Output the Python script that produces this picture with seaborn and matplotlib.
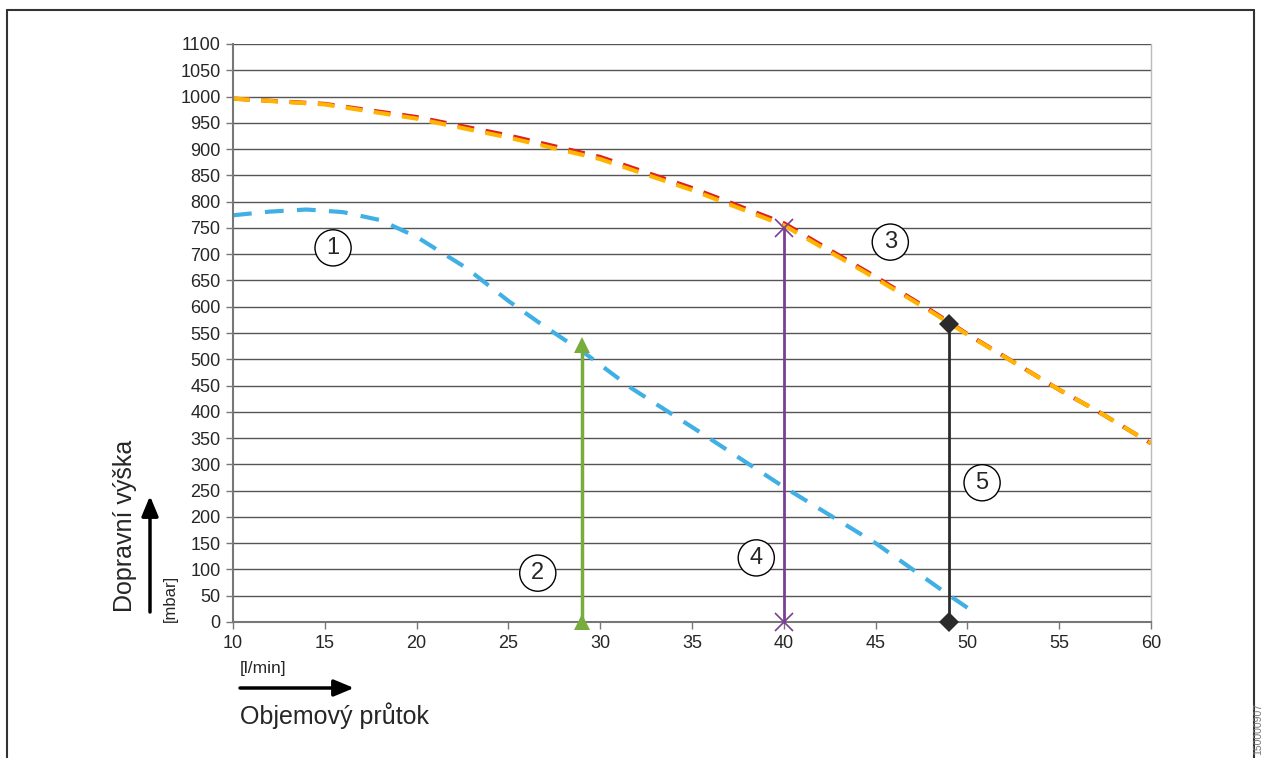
import matplotlib.pyplot as plt
import matplotlib.lines as mlines
import pandas as pd
import seaborn as sns

# curve data
flow_blue = [10, 12, 14, 16, 18, 20, 22.7, 25, 26.7, 29.3, 31.7, 35.4, 40, 45, 49, 50.3]
head_blue = [774, 781, 785, 780, 765, 733, 674, 611, 569, 508, 445, 362, 257, 150, 51, 20]

flow_top = [10, 15, 20, 25, 30, 35, 40, 45, 48.1, 50, 55, 57, 60]
head_orange = [996, 985, 958, 922, 881, 822, 755, 654, 589, 547, 442, 403, 340]
head_red = [996, 986, 961, 926, 885, 826, 759, 657, 591, 548, 442, 403, 340]

# vertical operating lines
x_green = [29, 29]
y_green = [0, 527]
x_purple = [40, 40]
y_purple = [0, 750]
x_black = [49, 49]
y_black = [0, 567]

# circled numbers
labels = ["1", "2", "3", "4", "5"]
label_x = [15.45, 26.6, 45.8, 38.5, 50.8]
label_y = [712, 93, 723, 122, 265]

sns.set_style("white")
plt.rcParams["font.family"] = ["Liberation Sans", "DejaVu Sans"]

df_blue = pd.DataFrame({"flow": flow_blue, "head": head_blue})
df_top = pd.DataFrame({"flow": flow_top, "orange": head_orange, "red": head_red})

fig = plt.figure(figsize=(12.62, 7.58), dpi=100)
ax = fig.add_axes([233 / 1262, 1 - 622 / 758, 918 / 1262, 578 / 758])

sns.lineplot(data=df_top, x="flow", y="red", color="#e02020", linewidth=3,
             dashes=(4, 2.8), sort=False, estimator=None, ax=ax)
sns.lineplot(data=df_top, x="flow", y="orange", color="#ffb400", linewidth=3,
             dashes=(4, 2.8), sort=False, estimator=None, ax=ax)
sns.lineplot(data=df_blue, x="flow", y="head", color="#40b0e4", linewidth=3,
             dashes=(4.5, 3.2), sort=False, estimator=None, ax=ax)

sns.lineplot(x=x_green, y=y_green, color="#78ac3c", linewidth=2.5, marker="^",
             markersize=12, markeredgewidth=0, sort=False, estimator=None,
             clip_on=False, zorder=4, ax=ax)
sns.lineplot(x=x_purple, y=y_purple, color="#7a3e96", linewidth=2, marker="x",
             markersize=13, markeredgewidth=1.2, markeredgecolor="#7a3e96",
             sort=False, estimator=None, clip_on=False, zorder=4, ax=ax)
sns.lineplot(x=x_black, y=y_black, color="#2b2b2b", linewidth=2, marker="D",
             markersize=10, markeredgewidth=0, sort=False, estimator=None,
             clip_on=False, zorder=4, ax=ax)

for t, xx, yy in zip(labels, label_x, label_y):
    ax.text(xx, yy, t, fontsize=17, ha="center", va="center", zorder=5,
            bbox=dict(boxstyle="circle,pad=0.3", fc="white", ec="black", lw=1))

ax.set_xlim(10, 60)
ax.set_ylim(0, 1100)
ax.set_xticks(range(10, 61, 5))
ax.set_yticks(range(0, 1101, 50))
ax.grid(axis="y", color="#555555", linewidth=1)
ax.set_axisbelow(True)
ax.tick_params(axis="both", labelsize=13, direction="out", length=5, width=1,
               color="#777777", left=True, bottom=True, pad=4)
ax.set_xlabel("")
ax.set_ylabel("")
for s in ["left", "bottom"]:
    ax.spines[s].set_color("#777777")
    ax.spines[s].set_linewidth(1.5)
ax.spines["right"].set_color("#bbbbbb")
ax.spines["right"].set_linewidth(1)
ax.spines["top"].set_visible(False)

# axis captions with arrows
fig.text(125 / 1262, 1 - 612 / 758, "Dopravní výška", rotation=90, fontsize=18,
         ha="center", va="bottom")
fig.text(170 / 1262, 1 - 622 / 758, "[mbar]", rotation=90, fontsize=12,
         ha="center", va="bottom")
ax.annotate("", xy=(150 / 1262, 1 - 496 / 758), xytext=(150 / 1262, 1 - 612 / 758),
            xycoords="figure fraction", textcoords="figure fraction",
            arrowprops=dict(arrowstyle="-|>,head_length=1.2,head_width=0.5",
                            color="black", lw=2.5, shrinkA=0, shrinkB=0))
fig.text(240 / 1262, 1 - 668 / 758, "[l/min]", fontsize=12.5, ha="left", va="center")
ax.annotate("", xy=(354 / 1262, 1 - 688 / 758), xytext=(240 / 1262, 1 - 688 / 758),
            xycoords="figure fraction", textcoords="figure fraction",
            arrowprops=dict(arrowstyle="-|>,head_length=1.2,head_width=0.5",
                            color="black", lw=2.5, shrinkA=0, shrinkB=0))
fig.text(240 / 1262, 1 - 716 / 758, "Objemový průtok", fontsize=18, ha="left", va="center")

# outer frame
fc = "#333333"
fig.add_artist(mlines.Line2D([7 / 1262, 1254 / 1262], [1 - 10 / 758] * 2, color=fc, lw=1.5))
fig.add_artist(mlines.Line2D([7 / 1262] * 2, [0, 1 - 10 / 758], color=fc, lw=1.5))
fig.add_artist(mlines.Line2D([1254 / 1262] * 2, [0, 1 - 10 / 758], color=fc, lw=1.5))
fig.text(1258 / 1262, 3 / 758, "150000907", rotation=90, fontsize=7.5, color="#777777",
         ha="center", va="bottom")

fig.savefig("out.png", dpi=100)
